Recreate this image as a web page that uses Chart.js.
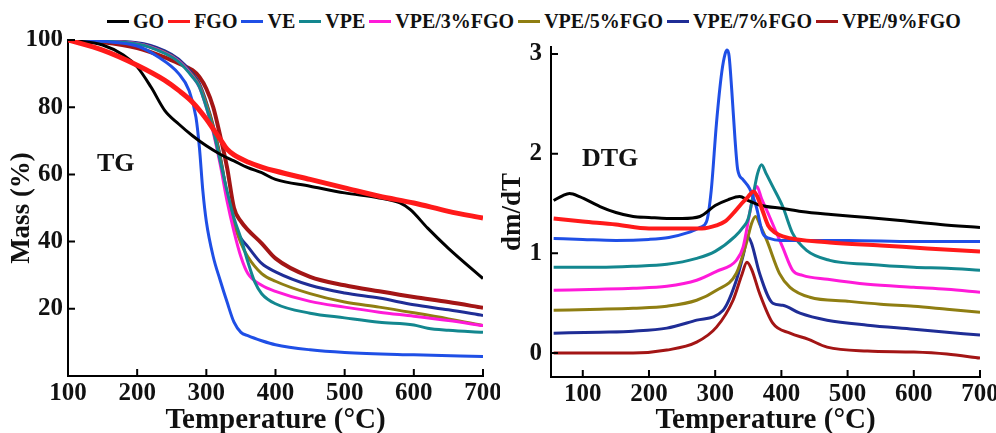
<!DOCTYPE html>
<html>
<head>
<meta charset="utf-8">
<script src="https://cdn.jsdelivr.net/npm/chart.js@4.4.1/dist/chart.umd.min.js"></script>
<style>
    html, body { margin: 0; padding: 0; background: #fff; }
    body { width: 996px; height: 433px; position: relative; overflow: hidden; font-family: 'Liberation Serif', 'Times New Roman', serif; }
    .panel { position: absolute; top: 30px; height: 403px; }
    #tgBox { left: 0; width: 500px; }
    #dtgBox { left: 500px; width: 496px; }
    #legend { position: absolute; left: 107px; top: 9px; height: 24px; display: flex; align-items: center; font-weight: bold; font-size: 20px; color: #111; white-space: nowrap; }
    #legend .item { display: flex; align-items: center; margin-right: 4px; }
    #legend .swatch { width: 22px; height: 3px; margin-right: 4px; }
    .tag { position: absolute; font-weight: bold; font-size: 26px; line-height: 26px; color: #111; }
</style>
</head>
<body>
<div id="legend"></div>
<div class="panel" id="tgBox"><canvas id="tgChart"></canvas></div>
<div class="panel" id="dtgBox"><canvas id="dtgChart"></canvas></div>
<div class="tag" style="left:97px; top:150px;">TG</div>
<div class="tag" style="left:582px; top:145px;">DTG</div>
<script>
// series names and colours (shared legend)
const seriesNames = ['GO', 'FGO', 'VE', 'VPE', 'VPE/3%FGO', 'VPE/5%FGO', 'VPE/7%FGO', 'VPE/9%FGO'];
const seriesColors = ['#000000', '#ff1a1a', '#1f4fe6', '#13878f', '#ff1ad9', '#8f7e12', '#1f2d96', '#a31515'];

// axis ticks
const tgTempTicks = [100, 200, 300, 400, 500, 600, 700];
const massTicks = [20, 40, 60, 80, 100];
const dtgTempTicks = [100, 200, 300, 400, 500, 600, 700];
const dtgTicks = [0, 1, 2, 3];

// TG curves: [temperature (°C), mass (%)]
const tgGO = [[100, 100], [150, 98.5], [180, 95.5], [200, 92], [220, 86], [240, 79], [260, 75], [280, 71.5], [300, 68.5], [320, 66], [340, 64], [360, 62], [380, 60.5], [400, 58.5], [450, 56.5], [500, 54.5], [550, 53], [580, 51.5], [595, 49.5], [620, 44], [650, 38], [700, 29]];
const tgFGO = [[100, 100], [150, 97], [200, 92.5], [240, 88], [260, 85], [280, 81.5], [300, 76.5], [310, 73.5], [320, 70.5], [330, 67.5], [340, 65.8], [360, 63.7], [380, 62.2], [400, 61], [450, 58.5], [500, 56], [550, 53.5], [600, 51.5], [650, 49], [700, 47]];
const tgVE = [[100, 100], [150, 99.6], [200, 98.2], [230, 95], [260, 90], [275, 85], [285, 77], [290, 68], [295, 55], [300, 46], [310, 35.5], [320, 28.5], [330, 22], [340, 16], [350, 13], [360, 12], [380, 10.5], [400, 9.3], [450, 7.8], [500, 7], [600, 6.3], [700, 5.8]];
const tgVPE = [[100, 100], [200, 98.8], [240, 96], [260, 93.5], [280, 89], [290, 86], [300, 80], [310, 73], [320, 64], [330, 55], [340, 47], [350, 41], [360, 34], [370, 28], [380, 24.5], [400, 21.5], [450, 18.7], [500, 17.3], [550, 16], [600, 15.2], [620, 14.2], [650, 13.6], [700, 13]];
const tgVPE3 = [[100, 100], [200, 98.9], [240, 96.2], [260, 93.7], [280, 89.2], [290, 86], [300, 80], [310, 72.5], [320, 63], [330, 52], [340, 43], [350, 35.5], [360, 30.5], [380, 27], [400, 25.2], [450, 22.2], [500, 20.5], [550, 19], [600, 17.8], [650, 16.5], [700, 15]];
const tgVPE5 = [[100, 100], [200, 98.9], [240, 96.3], [260, 93.8], [280, 89.5], [290, 86.5], [300, 81], [310, 74], [320, 65], [330, 54], [340, 45.5], [350, 39.5], [360, 35.5], [380, 30.5], [400, 28.2], [450, 24.5], [500, 22], [550, 20.5], [600, 18.8], [650, 17], [700, 15]];
const tgVPE7 = [[100, 100], [200, 99.2], [240, 96.8], [260, 94.3], [280, 90], [290, 87], [300, 81.5], [310, 74.5], [320, 65.5], [330, 54], [340, 45], [350, 41], [360, 38.5], [380, 33.5], [400, 31], [450, 27], [500, 24.7], [550, 23.2], [600, 21.2], [650, 19.7], [700, 18]];
const tgVPE9 = [[100, 100], [150, 99.3], [200, 97.6], [240, 94.8], [260, 93], [280, 91], [290, 89], [300, 85.5], [310, 80], [320, 71.5], [330, 62], [340, 50], [350, 46], [360, 43.5], [380, 39.5], [400, 35], [450, 29.5], [500, 27], [550, 25.2], [600, 23.5], [650, 22], [700, 20.3]];

// DTG curves: [temperature (°C), dm/dT]
const dtgGO = [[56, 1.53], [70, 1.58], [80, 1.6], [95, 1.57], [126, 1.47], [150, 1.41], [176, 1.37], [200, 1.36], [227, 1.35], [250, 1.35], [277, 1.37], [300, 1.48], [320, 1.54], [337, 1.57], [350, 1.53], [370, 1.48], [402, 1.45], [430, 1.42], [475, 1.39], [530, 1.36], [580, 1.33], [640, 1.29], [700, 1.26]];
const dtgFGO = [[56, 1.35], [100, 1.32], [150, 1.29], [200, 1.25], [250, 1.25], [280, 1.25], [302, 1.28], [315, 1.32], [327, 1.4], [340, 1.5], [350, 1.57], [358, 1.62], [365, 1.55], [372, 1.42], [380, 1.28], [390, 1.21], [402, 1.17], [473, 1.11], [550, 1.08], [620, 1.05], [700, 1.02]];
const dtgVE = [[56, 1.15], [100, 1.14], [150, 1.13], [200, 1.14], [230, 1.16], [260, 1.21], [277, 1.26], [287, 1.32], [294, 1.63], [302, 2.31], [310, 2.82], [315, 3.0], [318, 3.04], [321, 2.98], [325, 2.64], [330, 2.14], [334, 1.84], [342, 1.74], [352, 1.65], [362, 1.47], [372, 1.2], [382, 1.15], [400, 1.13], [500, 1.13], [600, 1.12], [700, 1.12]];
const dtgVPE = [[56, 0.86], [126, 0.86], [176, 0.87], [227, 0.89], [272, 0.95], [300, 1.02], [330, 1.17], [342, 1.26], [350, 1.35], [357, 1.57], [364, 1.8], [370, 1.89], [377, 1.8], [387, 1.67], [402, 1.47], [417, 1.2], [438, 1.03], [473, 0.93], [530, 0.89], [600, 0.86], [650, 0.85], [700, 0.83]];
const dtgVPE3 = [[56, 0.63], [126, 0.64], [176, 0.65], [227, 0.67], [272, 0.73], [302, 0.82], [332, 0.93], [342, 1.06], [352, 1.4], [358, 1.6], [363, 1.67], [370, 1.55], [382, 1.37], [402, 1.06], [417, 0.83], [432, 0.78], [470, 0.74], [530, 0.69], [600, 0.66], [650, 0.64], [700, 0.61]];
const dtgVPE5 = [[56, 0.43], [126, 0.44], [176, 0.45], [227, 0.47], [272, 0.53], [302, 0.63], [332, 0.8], [347, 1.1], [355, 1.3], [361, 1.37], [368, 1.28], [378, 1.13], [397, 0.8], [413, 0.66], [443, 0.56], [500, 0.52], [550, 0.49], [600, 0.47], [650, 0.44], [700, 0.41]];
const dtgVPE7 = [[56, 0.2], [126, 0.21], [176, 0.22], [227, 0.25], [272, 0.33], [312, 0.43], [332, 0.73], [343, 1.0], [349, 1.17], [355, 1.1], [367, 0.8], [387, 0.5], [402, 0.48], [428, 0.4], [469, 0.33], [530, 0.28], [600, 0.24], [650, 0.21], [700, 0.18]];
const dtgVPE9 = [[56, 0.0], [126, 0.0], [176, 0.0], [227, 0.03], [272, 0.11], [302, 0.26], [327, 0.53], [340, 0.78], [348, 0.91], [355, 0.84], [367, 0.6], [387, 0.3], [413, 0.2], [440, 0.14], [469, 0.06], [530, 0.02], [600, 0.01], [650, -0.01], [700, -0.05]];

const tgSeries = [tgGO, tgFGO, tgVE, tgVPE, tgVPE3, tgVPE5, tgVPE7, tgVPE9];
const dtgSeries = [dtgGO, dtgFGO, dtgVE, dtgVPE, dtgVPE3, dtgVPE5, dtgVPE7, dtgVPE9];

const serif = "'Liberation Serif', 'Times New Roman', serif";
const ink = '#111';

// legend across the top
const legendEl = document.getElementById('legend');
seriesNames.forEach((name, i) => {
    const item = document.createElement('span');
    item.className = 'item';
    const sw = document.createElement('span');
    sw.className = 'swatch';
    sw.style.background = seriesColors[i];
    const label = document.createElement('span');
    label.textContent = name;
    item.appendChild(sw);
    item.appendChild(label);
    legendEl.appendChild(item);
});

// tick marks pointing into the plot
const innerTicks = {
    id: 'innerTicks',
    afterDraw(chart) {
        const { ctx, chartArea, scales: { x, y } } = chart;
        ctx.save();
        ctx.strokeStyle = '#000';
        ctx.lineWidth = 2;
        ctx.beginPath();
        x.ticks.forEach((t) => {
            const px = x.getPixelForValue(t.value);
            ctx.moveTo(px, chartArea.bottom);
            ctx.lineTo(px, chartArea.bottom - 7);
        });
        y.ticks.forEach((t) => {
            const py = y.getPixelForValue(t.value);
            ctx.moveTo(chartArea.left, py);
            ctx.lineTo(chartArea.left + 7, py);
        });
        ctx.stroke();
        ctx.restore();
    },
};

const buildDatasets = (series, widths) => series.map((pts, i) => ({
    label: seriesNames[i],
    data: pts.map(([t, v]) => ({ x: t, y: v })),
    borderColor: seriesColors[i],
    borderWidth: widths[i],
    pointRadius: 0,
    cubicInterpolationMode: 'monotone',
    order: i === 1 ? -1 : i,
}));

const makeChart = (canvasId, datasets, cfg) => new Chart(document.getElementById(canvasId), {
    type: 'line',
    data: { datasets },
    options: {
        responsive: true,
        maintainAspectRatio: false,
        animation: false,
        layout: { autoPadding: false, padding: cfg.padding },
        plugins: { legend: { display: false }, tooltip: { enabled: false } },
        scales: {
            x: {
                type: 'linear',
                min: cfg.xMin,
                max: cfg.xMax,
                afterBuildTicks: (scale) => { scale.ticks = cfg.xTicks.map((v) => ({ value: v })); },
                afterFit: (scale) => {
                    scale.height = cfg.xHeight;
                    scale.paddingLeft = 0;
                    scale.paddingRight = 0;
                },
                grid: { display: false, drawTicks: false },
                border: { display: true, color: '#000', width: 2 },
                ticks: { padding: 3, color: ink, font: { family: serif, size: 25, weight: 'bold' }, maxRotation: 0 },
                title: {
                    display: true,
                    text: 'Temperature (°C)',
                    color: ink,
                    padding: { top: 0, bottom: 0 },
                    font: { family: serif, size: 29, weight: 'bold', lineHeight: 0.85 },
                },
            },
            y: {
                min: cfg.yMin,
                max: cfg.yMax,
                afterBuildTicks: (scale) => { scale.ticks = cfg.yTicks.map((v) => ({ value: v })); },
                afterFit: (scale) => {
                    scale.width = cfg.yWidth;
                    scale.paddingTop = 0;
                    scale.paddingBottom = 0;
                },
                grid: { display: false, drawTicks: false },
                border: { display: true, color: '#000', width: 2 },
                ticks: { padding: cfg.yPad, color: ink, font: { family: serif, size: 25, weight: 'bold' } },
                title: {
                    display: true,
                    text: cfg.yTitle,
                    color: ink,
                    padding: { top: cfg.yTitlePad, bottom: 0 },
                    font: { family: serif, size: 27, weight: 'bold', lineHeight: 1 },
                },
            },
        },
    },
    plugins: [innerTicks],
});

makeChart('tgChart', buildDatasets(tgSeries, [3, 5, 3, 3, 3, 3, 3, 4]), {
    padding: { left: 0, right: 17, top: 10, bottom: 0 },
    xMin: 100, xMax: 700, xTicks: tgTempTicks, xHeight: 57,
    yMin: 0, yMax: 100, yTicks: massTicks, yWidth: 68, yPad: 5,
    yTitle: 'Mass (%)', yTitlePad: 9,
});

makeChart('dtgChart', buildDatasets(dtgSeries, [3, 4, 3, 3, 3, 3, 3, 3]), {
    padding: { left: 0, right: 16, top: 17, bottom: 0 },
    xMin: 52, xMax: 700, xTicks: dtgTempTicks, xHeight: 56,
    yMin: -0.24, yMax: 3.07, yTicks: dtgTicks, yWidth: 51, yPad: 9,
    yTitle: 'dm/dT', yTitlePad: 0,
});
</script>
</body>
</html>
